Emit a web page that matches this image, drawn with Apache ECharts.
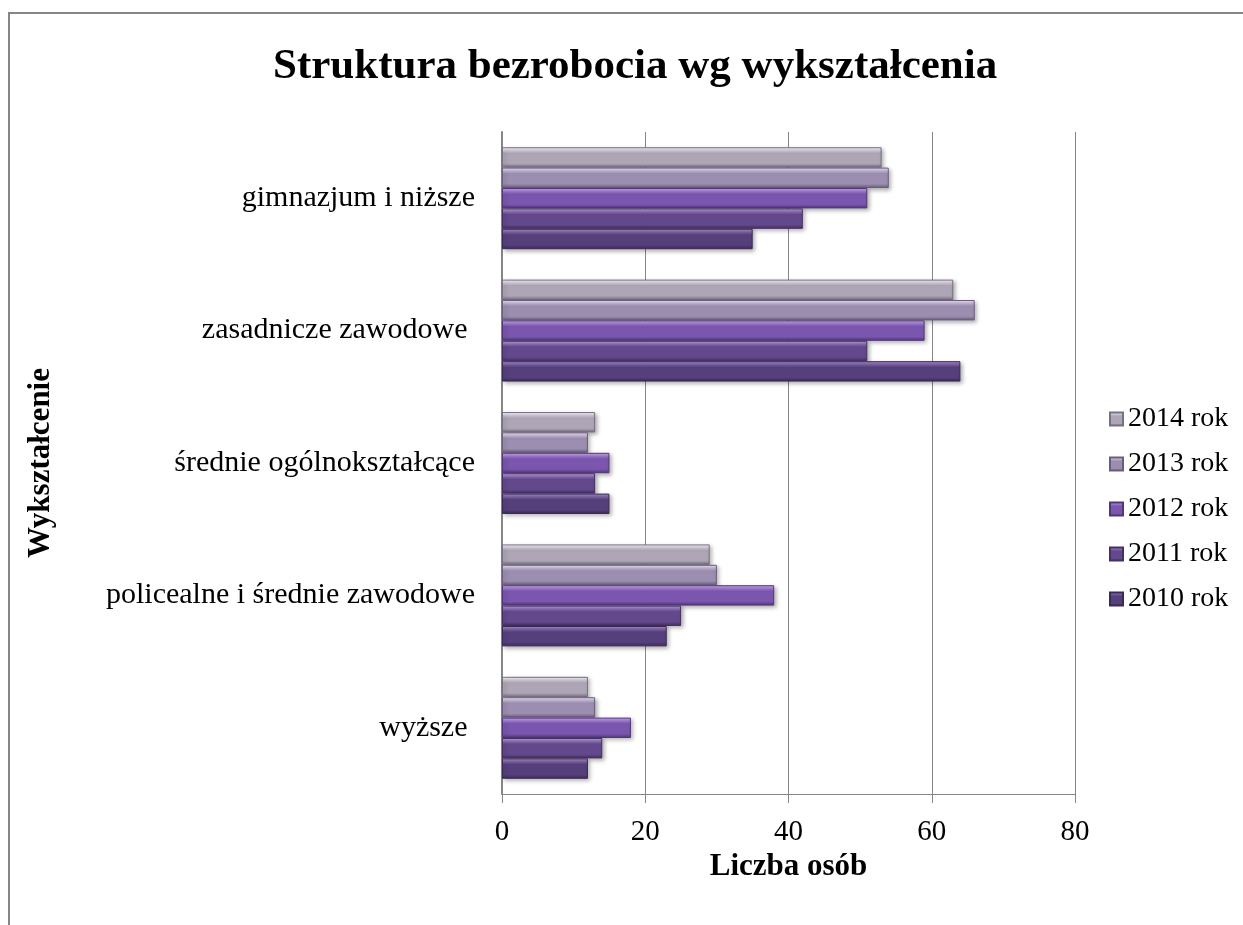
<!DOCTYPE html>
<html>
<head>
<meta charset="utf-8">
<script src="https://cdn.jsdelivr.net/npm/echarts@6/dist/echarts.min.js"></script>
<style>
  html, body { margin: 0; padding: 0; background: #fff; }
  #chart { width: 1243px; height: 925px; }
</style>
</head>
<body>
<div id="chart"></div>
<script>
// kategorie (od dołu do góry, jak na osi)
var categories = ['wyższe ', 'policealne i średnie zawodowe', 'średnie ogólnokształcące', 'zasadnicze zawodowe ', 'gimnazjum i niższe'];
var years = ['2014 rok', '2013 rok', '2012 rok', '2011 rok', '2010 rok'];
// wartości dla kolejnych lat
var v2014 = [12, 29, 13, 63, 53];
var v2013 = [13, 30, 12, 66, 54];
var v2012 = [18, 38, 15, 59, 51];
var v2011 = [14, 25, 13, 51, 42];
var v2010 = [12, 23, 15, 64, 35];
var xTicks = [0, 20, 40, 60, 80];

var values = [v2014, v2013, v2012, v2011, v2010];
// kolory: góra, środek, dół
var shades = [
    ['#fdf8ff', '#aea6b6', '#767080'],
    ['#f5e8ff', '#9c8eb0', '#6a5e7c'],
    ['#d0aaf6', '#7a56ae', '#503878'],
    ['#bea0e6', '#64488c', '#443062'],
    ['#ac8ed4', '#56407c', '#3a2a56']
];

function grad(c) {
    return new echarts.graphic.LinearGradient(0, 0, 0, 1, [
        {offset: 0, color: c[0]},
        {offset: 0.3, color: c[1]},
        {offset: 0.8, color: c[1]},
        {offset: 1, color: c[2]}
    ]);
}

var serif = '"Liberation Serif", "DejaVu Serif", serif';

var series = years.map(function(name, i) {
    return {
        name: name,
        type: 'bar',
        data: values[i],
        barGap: '0%',
        barCategoryGap: '23%',
        itemStyle: {
            color: grad(shades[i]),
            borderColor: shades[i][2],
            borderWidth: 1,
            shadowBlur: 4,
            shadowOffsetX: 2,
            shadowOffsetY: 2,
            shadowColor: 'rgba(0,0,0,0.3)'
        }
    };
});

var myChart = echarts.init(document.getElementById('chart'));

var option = {
    backgroundColor: '#fff',
    animation: false,
    title: {
        text: 'Struktura bezrobocia wg wykształcenia',
        left: 268,
        top: 40,
        textStyle: {fontFamily: serif, fontSize: 43, fontWeight: 'bold', color: '#000'}
    },
    graphic: [{
        type: 'rect',
        shape: {x: 9, y: 13, width: 1260, height: 940},
        style: {fill: 'none', stroke: '#868686', lineWidth: 2},
        silent: true
    }],
    legend: {
        orient: 'vertical',
        left: 1104,
        top: 400,
        itemWidth: 13,
        itemHeight: 13,
        itemGap: 17,
        icon: 'rect',
        data: years,
        textStyle: {fontFamily: serif, fontSize: 28, color: '#000'}
    },
    grid: {left: 502, right: 168, top: 132, bottom: 131, containLabel: false},
    xAxis: {
        type: 'value',
        min: 0,
        max: 80,
        interval: 20,
        name: 'Liczba osób',
        nameLocation: 'middle',
        nameGap: 48,
        nameTextStyle: {fontFamily: serif, fontSize: 31, fontWeight: 'bold', color: '#000'},
        axisLine: {show: true, lineStyle: {color: '#868686', width: 1}},
        axisTick: {show: true, length: 9, lineStyle: {color: '#868686'}},
        axisLabel: {
            fontFamily: serif, fontSize: 29, color: '#000', margin: 24,
            formatter: function(v) { return xTicks.indexOf(v) >= 0 ? String(v) : ''; }
        },
        splitLine: {show: true, lineStyle: {color: '#868686', width: 1}}
    },
    yAxis: {
        type: 'category',
        data: categories,
        name: 'Wykształcenie',
        nameLocation: 'middle',
        nameGap: 446,
        nameRotate: 90,
        nameTextStyle: {fontFamily: serif, fontSize: 31, fontWeight: 'bold', color: '#000'},
        axisLine: {show: true, lineStyle: {color: '#868686', width: 2}},
        axisTick: {show: false},
        axisLabel: {fontFamily: serif, fontSize: 30, color: '#000', margin: 27}
    },
    series: series
};

myChart.setOption(option);
</script>
</body>
</html>
